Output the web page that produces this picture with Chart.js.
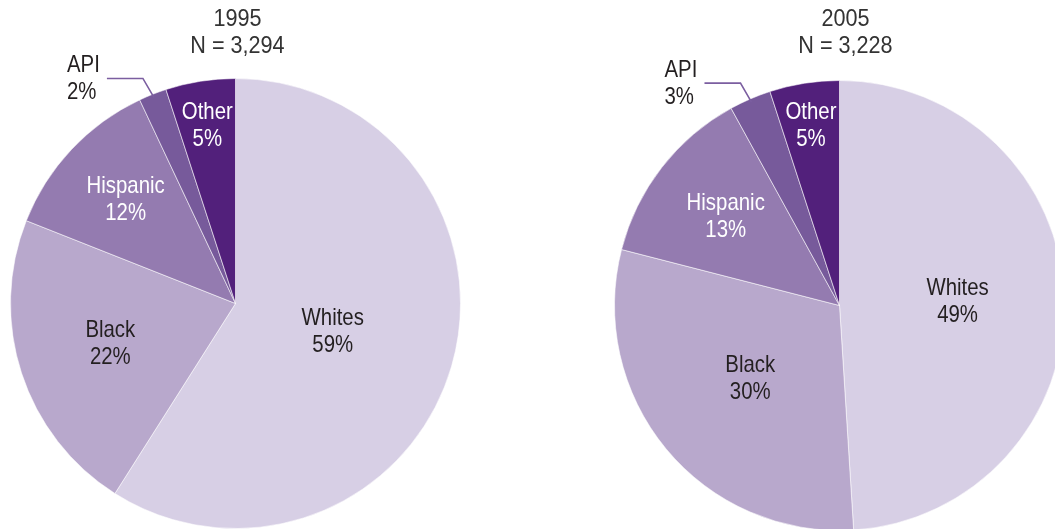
<!DOCTYPE html>
<html>
<head>
<meta charset="utf-8">
<script src="https://cdn.jsdelivr.net/npm/chart.js@4.4.0/dist/chart.umd.min.js"></script>
<style>
  html, body { margin: 0; padding: 0; background: #fff; }
  body { width: 1055px; height: 529px; overflow: hidden; position: relative; }
  canvas { position: absolute; top: 0; }
  #pie1995 { left: 0; }
  #pie2005 { left: 528px; }
</style>
</head>
<body>
<canvas id="pie1995" width="528" height="540"></canvas>
<canvas id="pie2005" width="560" height="540"></canvas>
<script>
// categories and values (percent of total)
const groups = ['Whites', 'Black', 'Hispanic', 'API', 'Other'];
const shares1995 = [59, 22, 12, 2, 5];
const shares2005 = [49, 30, 13, 3, 5];
const titles1995 = ['1995', 'N = 3,294'];
const titles2005 = ['2005', 'N = 3,228'];

const sliceColors = ['#d7cfe5', '#b8a8cc', '#947bb0', '#775a9b', '#52207b'];
const labelColors = ['#231f20', '#231f20', '#ffffff', '#231f20', '#ffffff'];
const FONT = '"Liberation Sans", Arial, sans-serif';
const NARROW = 0.85; // squeeze text to look like a condensed face

// writes text squeezed horizontally around its anchor point
function narrowText(ctx, text, x, y, align, squeeze) {
  ctx.save();
  ctx.translate(x, y);
  ctx.scale(squeeze || NARROW, 1);
  ctx.textAlign = align;
  ctx.fillText(text, 0, 0);
  ctx.restore();
}

// draws the slice labels, the API leader line and the two line title
const pieLabels = {
  id: 'pieLabels',
  afterDatasetsDraw(chart, args, opts) {
    const ctx = chart.ctx;
    const meta = chart.getDatasetMeta(0);
    const values = chart.data.datasets[0].data;
    ctx.save();
    ctx.font = '24px ' + FONT;
    ctx.textBaseline = 'middle';

    meta.data.forEach((arc, i) => {
      const p = arc.getProps(['x', 'y', 'startAngle', 'endAngle', 'outerRadius'], true);
      const mid = (p.startAngle + p.endAngle) / 2;
      const text = [chart.data.labels[i], values[i] + '%'];

      if (opts.outside[i]) {
        // small slice: leader line going up-left, label beside it
        const r = p.outerRadius * 0.985;
        const x0 = p.x + Math.cos(mid) * r;
        const y0 = p.y + Math.sin(mid) * r;
        const x1 = x0 - 11, y1 = y0 - 19;
        const x2 = x1 - 36;
        ctx.strokeStyle = '#7b5ea0';
        ctx.lineWidth = 1.6;
        ctx.beginPath();
        ctx.moveTo(x0, y0);
        ctx.lineTo(x1, y1);
        ctx.lineTo(x2, y1);
        ctx.stroke();
        ctx.fillStyle = '#231f20';
        narrowText(ctx, text[0], x2 - 40, y1 - 13, 'left');
        narrowText(ctx, text[1], x2 - 40, y1 + 14, 'left');
        return;
      }

      const f = opts.radius[i];
      const cx = p.x + Math.cos(mid) * p.outerRadius * f;
      const cy = p.y + Math.sin(mid) * p.outerRadius * f;
      ctx.fillStyle = labelColors[i];
      narrowText(ctx, text[0], cx, cy - 13.5, 'center');
      narrowText(ctx, text[1], cx, cy + 13.5, 'center');
    });

    // title above the pie
    const first = meta.data[0];
    ctx.fillStyle = '#333333';
    const tx = first.x + opts.titleShift;
    narrowText(ctx, opts.title[0], tx, 19, 'center', 0.9);
    narrowText(ctx, opts.title[1], tx, 46, 'center', 0.9);
    ctx.restore();
  }
};

function makePie(canvasId, values, title, padding, radius, titleShift) {
  const ctx = document.getElementById(canvasId).getContext('2d');
  return new Chart(ctx, {
    type: 'pie',
    data: {
      labels: groups,
      datasets: [{
        data: values,
        backgroundColor: sliceColors,
        borderColor: 'rgba(255,255,255,0.55)',
        borderWidth: 1
      }]
    },
    options: {
      responsive: false,
      animation: false,
      layout: { padding: padding },
      plugins: {
        legend: { display: false },
        tooltip: { enabled: false },
        pieLabels: {
          title: title,
          radius: radius,
          outside: [false, false, false, true, false],
          titleShift: titleShift
        }
      }
    },
    plugins: [pieLabels]
  });
}

makePie('pie1995', shares1995, titles1995,
  { left: 10, top: 78, right: 67, bottom: 11 },
  [0.45, 0.585, 0.67, 1, 0.80], 2);

makePie('pie2005', shares2005, titles2005,
  { left: 86, top: 80, right: 23, bottom: 9 },
  [0.525, 0.515, 0.64, 1, 0.81], 6);
</script>
</body>
</html>
